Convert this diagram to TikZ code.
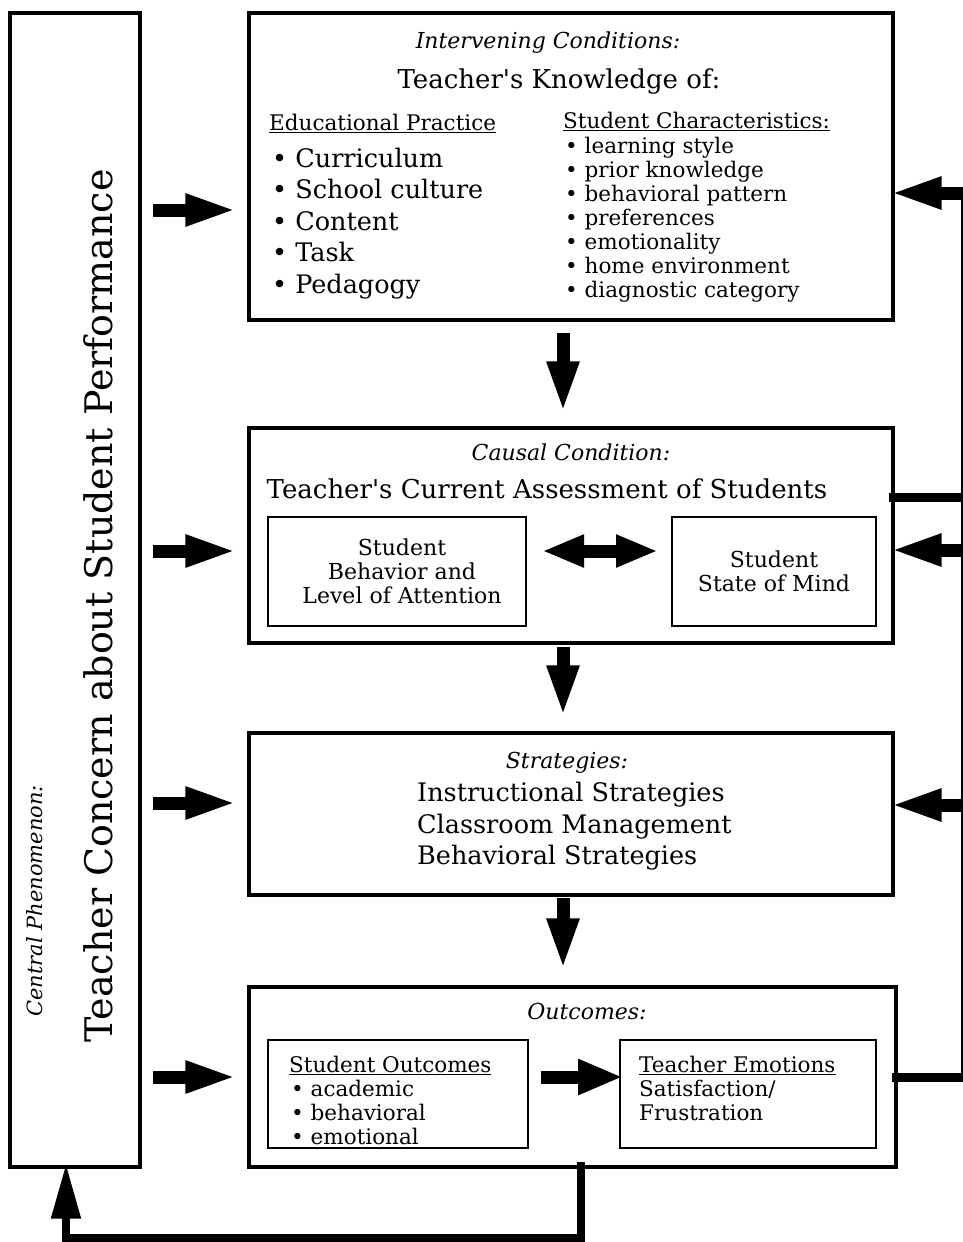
\documentclass[tikz,border=0pt]{standalone}
\usepackage{fontspec}
\setmainfont{DejaVu Serif}
\usetikzlibrary{arrows.meta}

\tikzset{
  box/.style={draw, line width=3.2pt, inner sep=0pt},
  inbox/.style={draw, line width=2pt, inner sep=0pt, align=center, font=\fontsize{22}{24}\selectfont},
  title/.style={font=\fontsize{22}{24}\selectfont\itshape, anchor=base, inner sep=0pt},
  head/.style={font=\fontsize{26}{30}\selectfont, anchor=base, inner sep=0pt},
  big/.style={font=\fontsize{25.5}{30}\selectfont, anchor=base west, inner sep=0pt},
  small/.style={font=\fontsize{21.5}{24}\selectfont, anchor=base west, inner sep=0pt},
  blk/.style={line width=13pt, -{Triangle[length=52pt,width=29pt]}},
  bar/.style={line width=9pt}
}

\begin{document}
\begin{tikzpicture}[x=1pt, y=-1pt]
  \useasboundingbox (0,0) rectangle (963,1242);

  \node[box, minimum width=130pt, minimum height=1154pt] (phen) at (75,590) {};
  \node[box, minimum width=644pt, minimum height=307pt] (interv) at (571,166.5) {};
  \node[box, minimum width=644pt, minimum height=215pt] (causal) at (571,535.5) {};
  \node[box, minimum width=644pt, minimum height=162pt] (strat) at (571,814) {};
  \node[box, minimum width=647pt, minimum height=180pt] (outc) at (572.5,1077) {};

  \node[inbox, minimum width=258pt, minimum height=109pt] (behav) at (397,571.5) {\hspace{10pt}Student\\\hspace{10pt}Behavior and\\\hspace{10pt}Level of Attention};
  \node[inbox, minimum width=204pt, minimum height=109pt] (mind) at (774,571.5) {Student\\State of Mind};
  \node[inbox, minimum width=260pt, minimum height=108pt] (stuout) at (398,1094) {};
  \node[inbox, minimum width=256pt, minimum height=108pt] (teaem) at (748,1094) {};

  \node[rotate=90, anchor=base, inner sep=0pt, font=\fontsize{38}{40}\selectfont] (concern) at (112,606) {Teacher Concern about Student Performance};
  \node[rotate=90, anchor=base, inner sep=0pt, font=\fontsize{21}{24}\selectfont\itshape] (central) at (42,901) {Central Phenomenon:};

  \node[title] (ic) at (548,48) {Intervening Conditions:};
  \node[head] (tk) at (559,88) {Teacher\textquotesingle s Knowledge of:};
  \node[small] (ep) at (269,130) {\underline{Educational Practice}};
  \foreach \t [count=\i] in {Curriculum, School culture, Content, Task, Pedagogy}
    \node[big] (ep\i) at (272,135.5+31.5*\i) {\textbullet\ \t};
  \node[small] (sc) at (563,128) {\underline{Student Characteristics:}};
  \foreach \t [count=\i] in {learning style, prior knowledge, behavioral pattern, preferences, emotionality, home environment, diagnostic category}
    \node[small] (sc\i) at (565,129+24*\i) {\textbullet\ \t};

  \node[title] (cc) at (571,460) {Causal Condition:};
  \node[head] (ca) at (547,498) {Teacher\textquotesingle s Current Assessment of Students};

  \node[title] (st) at (567,768) {Strategies:};
  \foreach \t [count=\i] in {Instructional Strategies, Classroom Management, Behavioral Strategies}
    \node[big] (st\i) at (417,770+31.5*\i) {\t};

  \node[title] (oc) at (587,1019) {Outcomes:};
  \node[small] (so) at (289,1072) {\underline{Student Outcomes}};
  \foreach \t [count=\i] in {academic, behavioral, emotional}
    \node[small] (so\i) at (291,1072+24*\i) {\textbullet\ \t};
  \node[small] (te) at (639,1072) {\underline{Teacher Emotions}};
  \node[small] (te1) at (639,1096) {Satisfaction/};
  \node[small] (te2) at (639,1120) {Frustration};

  % arrows from the left box
  \foreach \y/\n in {210/interv, 551/causal, 803/strat, 1077/outc}
    \draw[blk, shorten <=11pt, shorten >=10pt] (phen.east |- 0,\y) -- (\n.west |- 0,\y);

  % downward arrows
  \draw[blk, shorten <=11pt, shorten >=13pt] (interv.south -| 563,0) -- (causal.north -| 563,0);
  \draw[blk, shorten <=2pt, shorten >=14pt] (causal.south -| 563,0) -- (strat.north -| 563,0);
  \draw[blk, shorten <=1pt, shorten >=15pt] (strat.south -| 563,0) -- (outc.north -| 563,0);

  \draw[line width=13pt, {Triangle[length=42pt,width=30pt]}-{Triangle[length=42pt,width=30pt]}, shorten <=15pt, shorten >=13pt] (behav.east |- 0,551) -- (mind.west |- 0,551);
  \draw[line width=13pt, -{Triangle[length=45pt,width=33pt]}, shorten <=12pt, shorten >=-4pt] (stuout.east |- 0,1077) -- (teaem.west |- 0,1077);

  % feedback on the right
  \coordinate (rtop) at (962,193);
  \coordinate (rbot) at (962,1077);
  \draw[line width=3pt] (rtop) -- (rbot);
  \draw[bar, shorten <=-6pt] (causal.east |- 0,497) -- ([xshift=1.5pt]rtop |- 0,497);
  \draw[bar, shorten <=-6pt] (outc.east |- rbot) -- ([xshift=1.5pt]rbot);
  \draw[blk, shorten >=-5pt] ([xshift=1.5pt]rtop) -- (interv.east |- rtop);
  \draw[blk, shorten >=-5pt] ([xshift=1.5pt]rtop |- 0,550) -- (causal.east |- 0,550);
  \draw[blk, shorten >=-5pt] ([xshift=1.5pt]rtop |- 0,805) -- (strat.east |- 0,805);

  % feedback at the bottom
  \coordinate (bl) at (66,1238);
  \draw[line width=8pt, -{Triangle[length=55pt,width=28pt]}, shorten <=-7pt, shorten >=-5pt] (outc.south -| 581,0) |- (bl) -- (phen.south -| bl);

\end{tikzpicture}
\end{document}
